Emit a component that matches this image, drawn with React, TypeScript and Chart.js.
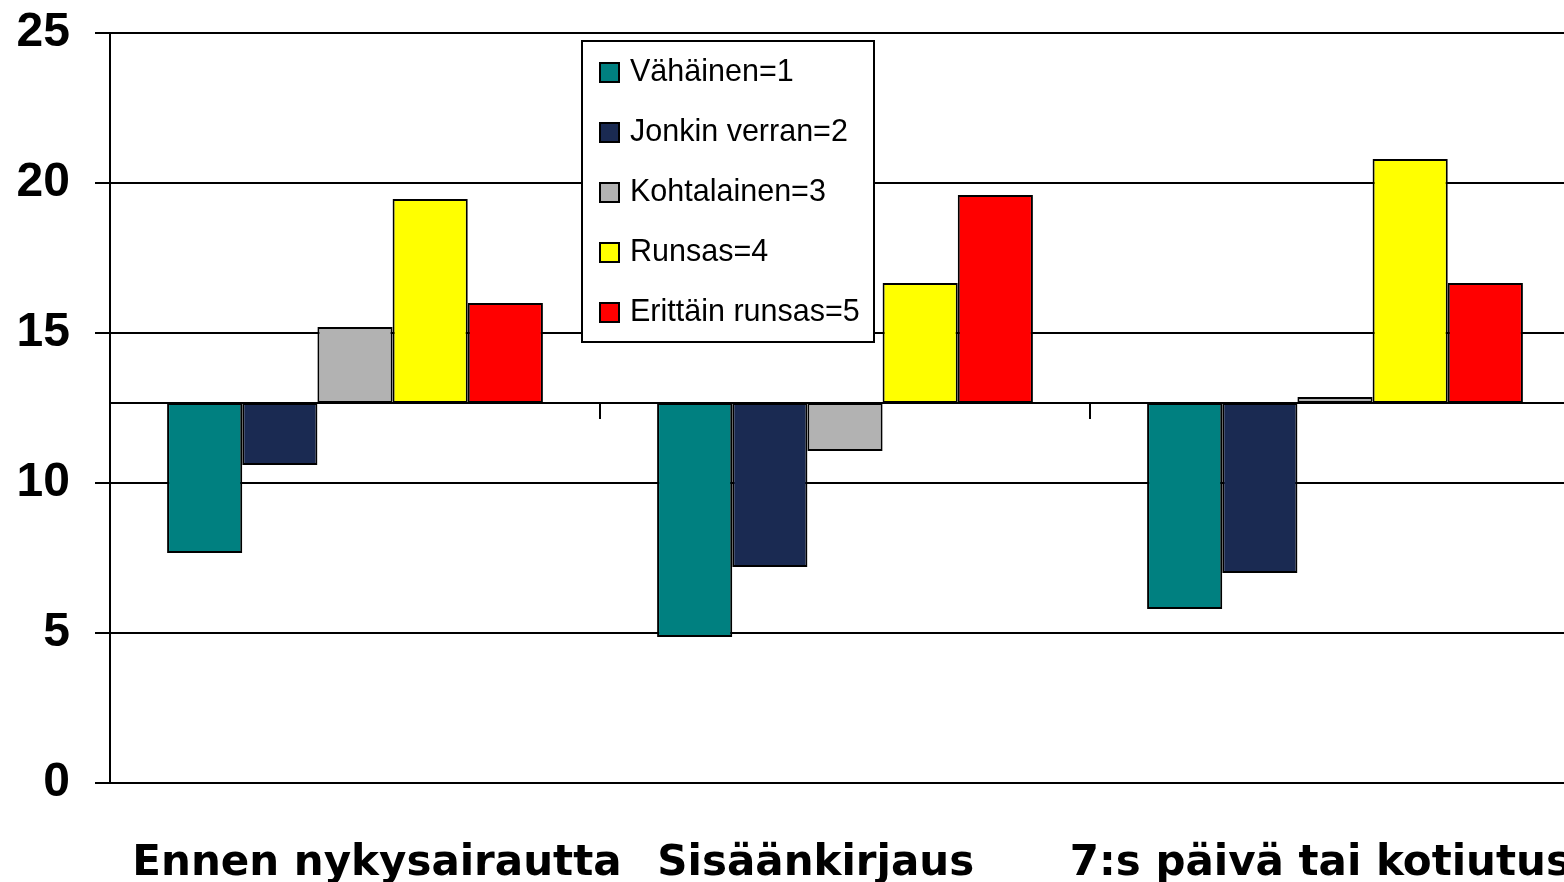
import React, { useEffect, useRef } from "react";
import { Chart, registerables } from "chart.js";

Chart.register(...registerables);

const CATEGORIES = ["Ennen nykysairautta", "Sisäänkirjaus", "7:s päivä tai kotiutus"];
const BASELINE = 12.67;
const SERIES_NAMES = ["Vähäinen=1", "Jonkin verran=2", "Kohtalainen=3", "Runsas=4", "Erittäin runsas=5"];
const VAHAINEN = [7.67, 4.87, 5.8];
const JONKIN_VERRAN = [10.6, 7.2, 7.0];
const KOHTALAINEN = [15.2, 11.07, 12.87];
const RUNSAS = [19.47, 16.67, 20.8];
const ERITTAIN_RUNSAS = [16.0, 19.6, 16.67];
const Y_TICKS = [0, 5, 10, 15, 20, 25];

const COLORS = ["#008080", "#1A2A52", "#B2B2B2", "#FFFF00", "#FF0000"];
// visual shift of category labels (matching reference placement)
const LABEL_PAD_LEFT = [3, 0, 0];
const LABEL_PAD_RIGHT = [0, 4, 2];

const legendPlugin = {
  id: "boxLegend",
  afterDraw(chart: any) {
    const ctx = chart.ctx;
    const x = 581, y = 40, w = 294, h = 303;
    ctx.save();
    ctx.fillStyle = "#ffffff";
    ctx.fillRect(x, y, w, h);
    ctx.strokeStyle = "#000000";
    ctx.lineWidth = 2;
    ctx.strokeRect(x + 1, y + 1, w - 2, h - 2);
    ctx.font = "30.5px 'Liberation Sans', Arial, sans-serif";
    ctx.textBaseline = "middle";
    ctx.textAlign = "left";
    chart.data.datasets.forEach((ds: any, i: number) => {
      const cy = 72.5 + i * 60;
      ctx.fillStyle = ds.backgroundColor;
      ctx.fillRect(600, cy - 9.5, 19, 19);
      ctx.strokeStyle = "#000";
      ctx.lineWidth = 2;
      ctx.strokeRect(600, cy - 9.5, 19, 19);
      ctx.fillStyle = "#000";
      ctx.fillText(ds.label, 630, cy);
    });
    ctx.restore();
  },
};

export default function App() {
  const ref = useRef<HTMLCanvasElement | null>(null);
  useEffect(() => {
    if (!ref.current) return;
    const seriesValues = [VAHAINEN, JONKIN_VERRAN, KOHTALAINEN, RUNSAS, ERITTAIN_RUNSAS];
    const chart = new Chart(ref.current, {
      type: "bar",
      data: {
        labels: CATEGORIES,
        datasets: seriesValues.map((vals, i) => ({
          label: SERIES_NAMES[i],
          data: vals,
          base: BASELINE,
          backgroundColor: COLORS[i],
          borderColor: "#000000",
          borderWidth: 2,
          borderSkipped: false,
          barPercentage: 1,
          categoryPercentage: 0.767,
          xAxisID: "x",
        })),
      },
      options: {
        responsive: false,
        animation: false,
        devicePixelRatio: 1,
        layout: { padding: { top: 33, right: 20, left: 0, bottom: 0 } },
        plugins: { legend: { display: false }, tooltip: { enabled: false } },
        scales: {
          x: {
            type: "category",
            position: "bottom",
            offset: true,
            grid: { display: false, offset: true },
            border: { display: false },
            ticks: {
              autoSkip: false,
              maxRotation: 0,
              minRotation: 0,
              padding: 48,
              color: "#000",
              font: { family: "'DejaVu Sans', Verdana, sans-serif", size: 42, weight: "bold" },
              callback: (_v: any, i: number) =>
                " ".repeat(LABEL_PAD_LEFT[i]) + CATEGORIES[i] + " ".repeat(LABEL_PAD_RIGHT[i]),
            },
            afterFit: (s: any) => {
              s.height = 99;
              s.paddingLeft = 0;
              s.paddingRight = 0;
            },
          },
          x2: {
            type: "category",
            axis: "x",
            position: { y: BASELINE },
            offset: true,
            grid: {
              display: true,
              offset: true,
              drawOnChartArea: false,
              drawTicks: true,
              tickLength: 15,
              color: "#000",
              lineWidth: 2,
            },
            border: { display: true, color: "#000", width: 2 },
            ticks: { display: false },
            afterFit: (s: any) => {
              s.paddingLeft = 0;
              s.paddingRight = 0;
            },
          },
          y: {
            min: 0,
            max: 25,
            afterBuildTicks: (s: any) => {
              s.ticks = Y_TICKS.map((v) => ({ value: v }));
            },
            grid: { color: "#000", lineWidth: 2, tickLength: 15, drawTicks: true },
            border: { display: true, color: "#000", width: 2 },
            ticks: {
              padding: 25,
              color: "#000",
              font: { family: "'Liberation Sans', Arial, sans-serif", size: 48, weight: "bold" },
            },
            afterFit: (s: any) => {
              s.width = 110;
              s.paddingTop = 0;
              s.paddingBottom = 0;
            },
          },
        },
      } as any,
      plugins: [legendPlugin],
    });
    return () => chart.destroy();
  }, []);
  return (
    <div
      style={{
        position: "absolute",
        left: 0,
        top: 0,
        width: 1564,
        height: 882,
        overflow: "hidden",
        background: "#ffffff",
      }}
    >
      <canvas ref={ref} width={1600} height={882} style={{ width: 1600, height: 882, display: "block" }} />
    </div>
  );
}
